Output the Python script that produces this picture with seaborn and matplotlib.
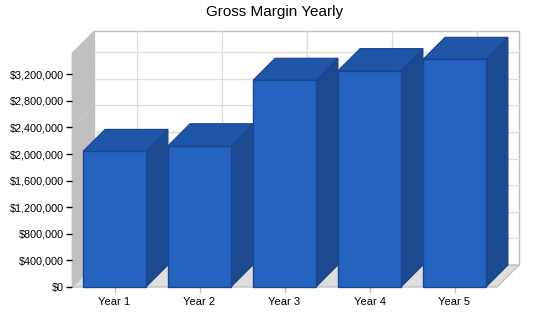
import matplotlib
matplotlib.use("Agg")
import matplotlib.pyplot as plt
from matplotlib.patches import Polygon, Rectangle
import seaborn as sns

years = ["Year 1", "Year 2", "Year 3", "Year 4", "Year 5"]
gross_margin = [2040000, 2125000, 3110000, 3255000, 3425000]
y_ticks = [0, 400000, 800000, 1200000, 1600000, 2000000, 2400000, 2800000, 3200000]

FRONT = "#2563c0"
TOP = "#2056a8"
SIDE = "#1c4a8e"
EDGE = "#1a4590"
WALL = "#c0c0c0"
FLOOR = "#dedede"
GRID = "#dcdcdc"

sns.set_style("white")
plt.rcParams["font.family"] = ["Liberation Sans", "DejaVu Sans"]

W, H = 550, 318
fig = plt.figure(figsize=(5.5, 3.18), dpi=100)
ax = fig.add_axes([72 / W, 31 / H, 425 / W, 234 / H])
ymax = 3520000
ax.set_xlim(-0.5, 4.5)
ax.set_ylim(0, ymax)

# depth offset of the 3D box: 22 px right, 22 px up
dx = 22 * 5 / 425
dy = 22 * ymax / 234

# walls and floor
ax.add_patch(Rectangle((-0.5 + dx, dy), 5, ymax, facecolor="white",
                       edgecolor=WALL, lw=1, zorder=0.2, clip_on=False))
ax.add_patch(Polygon([(-0.5, 0), (-0.5 + dx, dy), (-0.5 + dx, ymax + dy), (-0.5, ymax)],
                     closed=True, facecolor=WALL, edgecolor=WALL, lw=0.5,
                     zorder=0.3, clip_on=False))
ax.add_patch(Polygon([(-0.5, 0), (4.5, 0), (4.5 + dx, dy), (-0.5 + dx, dy)],
                     closed=True, facecolor=FLOOR, edgecolor=WALL, lw=1,
                     zorder=0.3, clip_on=False))

# gridlines on back wall and left wall
for v in y_ticks[1:]:
    ax.plot([-0.5 + dx, 4.5 + dx], [v + dy, v + dy], color=GRID, lw=1,
            zorder=0.25, clip_on=False)
    ax.plot([-0.5, -0.5 + dx], [v, v + dy], color="#c9c9c9", lw=0.6,
            zorder=0.35, clip_on=False)
for i in range(len(years)):
    ax.plot([i + dx, i + dx], [dy, ymax + dy], color=GRID, lw=1,
            zorder=0.25, clip_on=False)

sns.barplot(x=years, y=gross_margin, color=FRONT, saturation=1, width=0.74,
            edgecolor=EDGE, linewidth=1, ax=ax, zorder=3)

for p in list(ax.patches):
    if not isinstance(p, Rectangle) or p.get_facecolor()[:3] != matplotlib.colors.to_rgb(FRONT):
        continue
    x0, w, h = p.get_x(), p.get_width(), p.get_height()
    x1 = x0 + w
    side = Polygon([(x1, 0), (x1 + dx, dy), (x1 + dx, h + dy), (x1, h)], closed=True,
                   facecolor=SIDE, edgecolor=EDGE, lw=0.8, zorder=2, clip_on=False)
    top = Polygon([(x0, h), (x1, h), (x1 + dx, h + dy), (x0 + dx, h + dy)], closed=True,
                  facecolor=TOP, edgecolor=EDGE, lw=0.8, zorder=2, clip_on=False)
    ax.add_patch(side)
    ax.add_patch(top)
    p.set_clip_on(False)

for s in ax.spines.values():
    s.set_visible(False)
ax.set_facecolor("none")

ax.set_yticks(y_ticks)
ax.set_yticklabels([f"${v:,.0f}" for v in y_ticks])
ax.tick_params(axis="y", left=True, length=4, width=1, color="black", pad=2,
               labelsize=7.8, labelcolor="black")
ax.tick_params(axis="x", bottom=True, length=4, width=1, color=WALL, pad=3,
               labelsize=8, labelcolor="black")
ax.set_xlabel("")
ax.set_ylabel("")

fig.text(0.5, 1 - 12 / H, "Gross Margin Yearly", ha="center", va="center",
         fontsize=11, color="black")

fig.savefig("out.png", dpi=100)
